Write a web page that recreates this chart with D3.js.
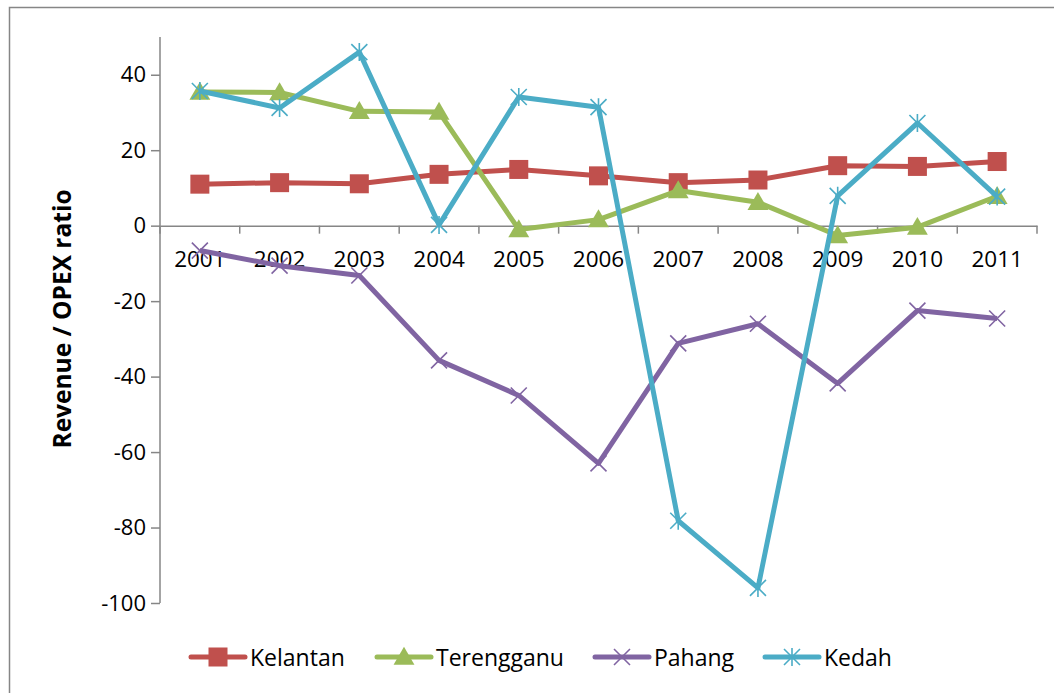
<!DOCTYPE html>
<html>
<head>
<meta charset="utf-8">
<script src="https://cdn.jsdelivr.net/npm/d3@7"></script>
<style>
  body { margin: 0; background: #fff; }
  svg text { font-family: "Open Sans", "Noto Sans", sans-serif; fill: #000; }
</style>
</head>
<body>
<div id="chart"></div>
<script>
var years = ["2001", "2002", "2003", "2004", "2005", "2006", "2007", "2008", "2009", "2010", "2011"];
var kelantan   = [11.0, 11.4, 11.1, 13.6, 14.9, 13.2, 11.4, 12.1, 15.9, 15.7, 17.0];
var terengganu = [35.4, 35.3, 30.3, 30.1, -1.0, 1.6, 9.3, 6.2, -2.6, -0.4, 7.8];
var pahang     = [-6.6, -10.6, -13.2, -35.7, -45.0, -63.0, -31.2, -26.0, -41.8, -22.5, -24.6];
var kedah      = [35.7, 31.2, 46.0, 0.2, 34.1, 31.4, -78.2, -96.0, 7.9, 27.2, 7.7];
var yTicks = [40, 20, 0, -20, -40, -60, -80, -100];

var series = [
  { name: "Kelantan",   values: kelantan,   color: "#C0504D", marker: "square" },
  { name: "Terengganu", values: terengganu, color: "#9BBB59", marker: "triangle" },
  { name: "Pahang",     values: pahang,     color: "#8064A2", marker: "x" },
  { name: "Kedah",      values: kedah,      color: "#4BACC6", marker: "star" }
];

var W = 1054, H = 693;
var plotLeft = 160, plotRight = 1037, plotTop = 37, plotBottom = 603;
var axisColor = "#868686";

var svg = d3.select("#chart").append("svg")
  .attr("width", W)
  .attr("height", H);

// outer chart frame
svg.append("rect")
  .attr("x", 9.5).attr("y", 7.5)
  .attr("width", W + 20).attr("height", H + 20)
  .attr("fill", "none")
  .attr("stroke", axisColor)
  .attr("stroke-width", 1.5);

var x = d3.scaleBand().domain(years).range([plotLeft, plotRight]).padding(0);
var y = d3.scaleLinear().domain([-100, 50]).range([plotBottom, plotTop]);

var cx = function(d, i) { return x(years[i]) + x.bandwidth() / 2; };

// y axis
var yAxis = svg.append("g")
  .attr("transform", "translate(" + plotLeft + ",0)")
  .call(d3.axisLeft(y).tickValues(yTicks).tickFormat(function(d) { return String(d); })
    .tickSize(9).tickSizeOuter(0).tickPadding(5));
yAxis.select(".domain").attr("stroke", axisColor).attr("stroke-width", 1.5)
  .attr("d", "M0," + y(50) + "V" + y(-100));
yAxis.selectAll(".tick line").attr("stroke", axisColor).attr("stroke-width", 1.5);
yAxis.selectAll(".tick text").attr("font-size", "22px")
  .attr("font-family", "'Open Sans', sans-serif");

// x axis at zero
var xAxis = svg.append("g")
  .attr("transform", "translate(0," + y(0) + ")")
  .call(d3.axisBottom(x).tickSize(0).tickSizeOuter(0).tickPadding(25));
xAxis.select(".domain").attr("stroke", axisColor).attr("stroke-width", 1.5);
xAxis.selectAll(".tick text").attr("font-size", "22.5px")
  .attr("font-family", "'Open Sans', sans-serif");
xAxis.selectAll(".bound")
  .data(years.map(function(d) { return x(d); }).concat([plotRight]))
  .enter().append("line")
  .attr("x1", function(d) { return d; }).attr("x2", function(d) { return d; })
  .attr("y1", 0).attr("y2", 8)
  .attr("stroke", axisColor).attr("stroke-width", 1.5);

// y title
svg.append("text")
  .attr("transform", "translate(71,319) rotate(-90)")
  .attr("text-anchor", "middle")
  .attr("font-size", "24.5px")
  .attr("font-weight", "bold")
  .text("Revenue / OPEX ratio");

function drawMarker(g, type, color, s) {
  if (type === "square") {
    g.append("rect").attr("x", -s / 2).attr("y", -s / 2).attr("width", s).attr("height", s)
      .attr("fill", color);
  } else if (type === "triangle") {
    var h = s * 0.9;
    g.append("path").attr("d", "M0," + (-h * 0.6) + "L" + (s * 0.55) + "," + (h * 0.45) + "L" + (-s * 0.55) + "," + (h * 0.45) + "Z")
      .attr("fill", color);
  } else if (type === "x") {
    var a = s / 2;
    g.append("path").attr("d", "M" + (-a) + "," + (-a) + "L" + a + "," + a + "M" + (-a) + "," + a + "L" + a + "," + (-a))
      .attr("stroke", color).attr("stroke-width", 1.6).attr("fill", "none");
  } else if (type === "star") {
    var b = s / 2;
    g.append("path").attr("d", "M" + (-b) + "," + (-b) + "L" + b + "," + b + "M" + (-b) + "," + b + "L" + b + "," + (-b) + "M0," + (-b - 1) + "V" + (b + 1))
      .attr("stroke", color).attr("stroke-width", 1.6).attr("fill", "none");
  }
}

var line = d3.line()
  .x(cx)
  .y(function(d) { return y(d); });

var sizes = { square: 19, triangle: 19, x: 16, star: 16 };

series.forEach(function(s) {
  var g = svg.append("g");
  g.append("path")
    .attr("d", line(s.values))
    .attr("fill", "none")
    .attr("stroke", s.color)
    .attr("stroke-width", 5)
    .attr("stroke-linejoin", "round");
  g.selectAll(".m")
    .data(s.values)
    .enter().append("g")
    .attr("transform", function(d, i) { return "translate(" + cx(d, i) + "," + y(d) + ")"; })
    .each(function() { drawMarker(d3.select(this), s.marker, s.color, sizes[s.marker]); });
});

// legend
var legendX = [191, 377, 595, 765];
var legendY = 657;
series.forEach(function(s, i) {
  var g = svg.append("g").attr("transform", "translate(" + legendX[i] + "," + legendY + ")");
  g.append("line").attr("x1", 0).attr("x2", 54).attr("y1", 0).attr("y2", 0)
    .attr("stroke", s.color).attr("stroke-width", 5).attr("stroke-linecap", "round");
  var m = g.append("g").attr("transform", "translate(27,0)");
  drawMarker(m, s.marker, s.color, sizes[s.marker]);
  g.append("text").attr("x", 59).attr("y", 8.5)
    .attr("font-size", "23px")
    .text(s.name);
});
</script>
</body>
</html>
